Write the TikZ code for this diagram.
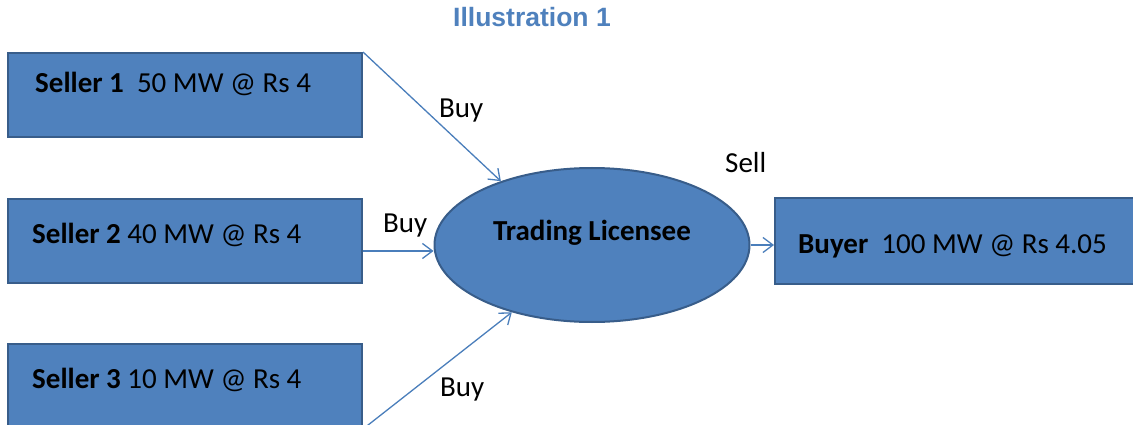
\documentclass[tikz,border=0pt]{standalone}
\usepackage{fontspec}
\setmainfont{Carlito}
\newfontfamily\titlefont{Liberation Sans}
\usetikzlibrary{shapes.geometric,arrows.meta,positioning}
\definecolor{boxblue}{HTML}{4F81BD}
\definecolor{boxedge}{HTML}{385D8A}
\definecolor{linkblue}{HTML}{4A7EBB}

\begin{document}
\begin{tikzpicture}[x=1pt,y=-1pt,font=\fontsize{29}{33}\selectfont]
\tikzstyle{party}=[draw=boxedge,fill=boxblue,line width=2pt,inner sep=0pt]
\tikzstyle{flow}=[draw=linkblue,line width=1.3pt,-{Straight Barb[length=10pt,width=15pt]}]
\tikzstyle{tag}=[anchor=base west,inner sep=0pt]

\clip (0,0) rectangle (1133,425);

\node[party,minimum width=354pt,minimum height=84pt]	(seller1)	at (185,95)		{};
\node[party,minimum width=354pt,minimum height=84pt]	(seller2)	at (185,241)	{};
\node[party,minimum width=354pt,minimum height=84pt]	(seller3)	at (185,386)	{};
\node[party,minimum width=372pt,minimum height=86pt]	(buyer)		at (961,241)	{};
\node[party,ellipse,minimum width=315pt,minimum height=154pt] (trader) at (592,245) {};

\node[tag] (seller1txt)	at (35,93)	{\textbf{Seller 1}\ \ 50 MW @ Rs 4};
\node[tag] (seller2txt)	at (32,243)	{\textbf{Seller 2} 40 MW @ Rs 4};
\node[tag] (seller3txt)	at (32,388)	{\textbf{Seller 3} 10 MW @ Rs 4};
\node[tag] (buyertxt)	at (798,253)	{\textbf{Buyer}\ \ 100 MW @ Rs 4.05};
\node[tag,anchor=base] (tradertxt) at (592,240) {\textbf{Trading Licensee}};

\node[tag,font=\titlefont\bfseries\fontsize{26.5}{30}\selectfont,text=boxblue] (title) at (453,27) {Illustration 1};

\coordinate (seller2out) at ([yshift=-10pt]seller2.east);

\draw[flow] (seller1.north east)	-- (trader.145);
\draw[flow] (seller2out)			-- (seller2out -| trader.west);
\draw[flow] (seller3.south east)	-- (trader.220);
\draw[flow] (trader.east)			-- (trader.east -| buyer.west);

\node[tag] (buy1)	at (439,118)	{Buy};
\node[tag] (buy2)	at (383,232)	{Buy};
\node[tag] (buy3)	at (440,396)	{Buy};
\node[tag] (sell)	at (725,172)	{Sell};

\end{tikzpicture}
\end{document}
